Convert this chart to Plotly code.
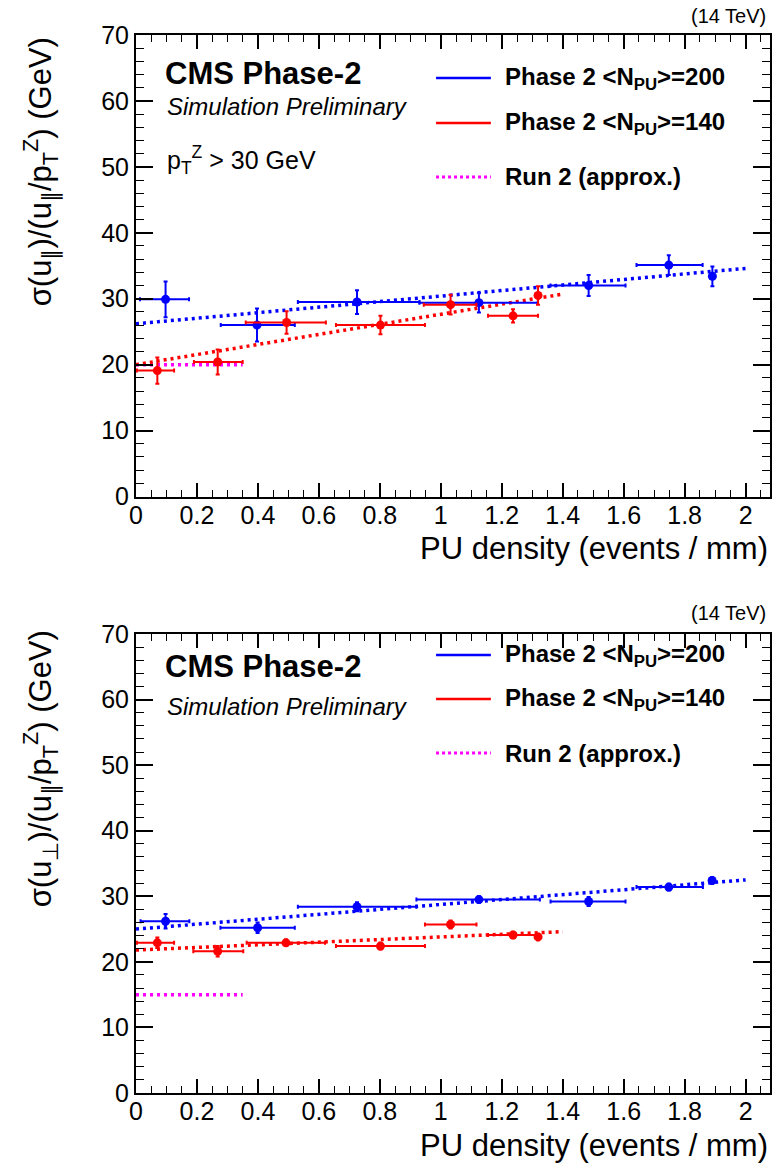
import plotly.graph_objects as go

# ---------------- data ----------------
# Top panel: sigma(u_par)
top_x200 = [0.097, 0.397, 0.725, 1.125, 1.485, 1.748, 1.891]
top_y200 = [29.9, 26.0, 29.5, 29.4, 32.0, 35.1, 33.4]
top_lo200 = [0.013, 0.278, 0.531, 0.93, 1.36, 1.642, 1.891]
top_hi200 = [0.174, 0.521, 0.93, 1.318, 1.606, 1.859, 1.891]
top_ey200 = [2.7, 2.5, 1.8, 1.5, 1.6, 1.5, 1.5]

top_x140 = [0.07, 0.268, 0.494, 0.802, 1.032, 1.237, 1.319]
top_y140 = [19.1, 20.4, 26.4, 26.0, 29.1, 27.4, 30.5]
top_lo140 = [0.003, 0.19, 0.36, 0.656, 0.944, 1.155, 1.319]
top_hi140 = [0.125, 0.35, 0.623, 0.948, 1.117, 1.319, 1.319]
top_ey140 = [2.0, 1.9, 1.7, 1.4, 1.5, 1.0, 1.4]

top_fit200_x = [0.0, 2.0]
top_fit200_y = [26.2, 34.6]
top_fit140_x = [0.0, 1.4]
top_fit140_y = [20.0, 30.7]
top_run2_x = [0.0, 0.35]
top_run2_y = [20.0, 20.0]

# Bottom panel: sigma(u_perp)
bot_x200 = [0.097, 0.399, 0.725, 1.125, 1.485, 1.748, 1.89]
bot_y200 = [26.2, 25.2, 28.4, 29.5, 29.2, 31.4, 32.4]
bot_lo200 = [0.015, 0.277, 0.531, 0.92, 1.36, 1.642, 1.89]
bot_hi200 = [0.175, 0.521, 0.92, 1.325, 1.606, 1.86, 1.89]
bot_ey200 = [1.1, 0.8, 0.7, 0.5, 0.7, 0.5, 0.5]

bot_x140 = [0.07, 0.268, 0.492, 0.802, 1.032, 1.237, 1.319]
bot_y140 = [22.9, 21.6, 22.9, 22.4, 25.7, 24.1, 23.8]
bot_lo140 = [0.003, 0.188, 0.363, 0.656, 0.948, 1.155, 1.319]
bot_hi140 = [0.125, 0.352, 0.62, 0.948, 1.117, 1.319, 1.319]
bot_ey140 = [0.8, 0.8, 0.5, 0.5, 0.6, 0.5, 0.5]

bot_fit200_x = [0.0, 2.0]
bot_fit200_y = [25.0, 32.5]
bot_fit140_x = [0.0, 1.4]
bot_fit140_y = [21.8, 24.6]
bot_run2_x = [0.0, 0.35]
bot_run2_y = [15.0, 15.0]

BLUE = "rgb(0,0,255)"
RED = "rgb(255,0,0)"
MAG = "rgb(255,0,255)"
FONT = "Liberation Sans, Arial, Helvetica, sans-serif"

W, H = 779, 1167
ML, MR, MT, MB = 136, 7, 35, 74
PW = W - ML - MR
PH = H - MT - MB
TOP_BOTTOM_PX = 496.5
BOT_TOP_PX = 634.0


def py(ypx):
    return (H - MB - ypx) / PH


def px(xpx):
    return (xpx - ML) / PW


fig = go.Figure()


def add_points(x, y, lo, hi, ey, color, xa, ya):
    fig.add_trace(go.Scatter(
        x=x, y=y, mode="markers", xaxis=xa, yaxis=ya,
        marker=dict(color=color, size=9, symbol="circle"),
        error_x=dict(type="data", symmetric=False,
                     array=[h - v for h, v in zip(hi, x)],
                     arrayminus=[v - l for v, l in zip(x, lo)],
                     color=color, thickness=2, width=2),
        error_y=dict(type="data", array=ey, color=color, thickness=2, width=2),
        showlegend=False, hoverinfo="skip"))


def add_line(x, y, color, xa, ya):
    fig.add_trace(go.Scatter(
        x=x, y=y, mode="lines", xaxis=xa, yaxis=ya,
        line=dict(color=color, width=3.5, dash="3px,4px"),
        showlegend=False, hoverinfo="skip"))


# top panel
add_line(top_run2_x, top_run2_y, MAG, "x", "y")
add_line(top_fit200_x, top_fit200_y, BLUE, "x", "y")
add_line(top_fit140_x, top_fit140_y, RED, "x", "y")
add_points(top_x200, top_y200, top_lo200, top_hi200, top_ey200, BLUE, "x", "y")
add_points(top_x140, top_y140, top_lo140, top_hi140, top_ey140, RED, "x", "y")
# bottom panel
add_line(bot_run2_x, bot_run2_y, MAG, "x2", "y2")
add_line(bot_fit200_x, bot_fit200_y, BLUE, "x2", "y2")
add_line(bot_fit140_x, bot_fit140_y, RED, "x2", "y2")
add_points(bot_x200, bot_y200, bot_lo200, bot_hi200, bot_ey200, BLUE, "x2", "y2")
add_points(bot_x140, bot_y140, bot_lo140, bot_hi140, bot_ey140, RED, "x2", "y2")

xaxis_common = dict(
    range=[0, 2.08], dtick=0.2, tick0=0, ticks="inside", ticklen=14, tickwidth=1.5,
    tickcolor="black", showline=True, linecolor="black", linewidth=2, mirror="ticks",
    showgrid=False, zeroline=False, tickfont=dict(family=FONT, size=25, color="black"),
    ticklabelstandoff=-5,
    minor=dict(dtick=0.05, ticks="inside", ticklen=7, tickwidth=1.2, tickcolor="black", showgrid=False),
)
yaxis_common = dict(
    range=[0, 70], dtick=10, tick0=0, ticks="inside", ticklen=17, tickwidth=1.5,
    tickcolor="black", showline=True, linecolor="black", linewidth=2, mirror="ticks",
    showgrid=False, zeroline=False, tickfont=dict(family=FONT, size=25, color="black"),
    minor=dict(dtick=2, ticks="inside", ticklen=8, tickwidth=1.2, tickcolor="black", showgrid=False),
)

fig.update_layout(
    width=W, height=H, margin=dict(l=ML, r=MR, t=MT, b=MB),
    paper_bgcolor="white", plot_bgcolor="white",
    font=dict(family=FONT, color="black"),
    xaxis=dict(**xaxis_common, anchor="y", domain=[0, 1]),
    yaxis=dict(**yaxis_common, anchor="x", domain=[py(TOP_BOTTOM_PX), 1]),
    xaxis2=dict(**xaxis_common, anchor="y2", domain=[0, 1]),
    yaxis2=dict(**yaxis_common, anchor="x2", domain=[0, py(BOT_TOP_PX)]),
)

ann = []
shapes = []


def text(xpx, ypx, s, size, xanchor="left", angle=0, yanchor="middle"):
    ann.append(dict(x=px(xpx), y=py(ypx), xref="paper", yref="paper", text=s,
                    showarrow=False, xanchor=xanchor, yanchor=yanchor, textangle=angle,
                    font=dict(family=FONT, size=size, color="black")))


def panel_text(off, legend_rows, ytitle, cms_y, sim_y, xtitle_y, pt_y=None):
    text(770, 16 + off, "(14 TeV)", 20, xanchor="right")
    text(163, cms_y, "<b>CMS Phase-2</b>", 31)
    text(165, sim_y, "<i>Simulation Preliminary</i>", 24)
    if pt_y is not None:
        text(165, pt_y, "p<sub>T</sub><sup>Z</sup> &gt; 30 GeV", 25)
    labels = ["<b>Phase 2 &lt;N<sub>PU</sub>&gt;=200</b>",
              "<b>Phase 2 &lt;N<sub>PU</sub>&gt;=140</b>",
              "<b>Run 2 (approx.)</b>"]
    cols = [BLUE, RED, MAG]
    for (yy, lab, c, i) in zip(legend_rows, labels, cols, range(3)):
        shapes.append(dict(type="line", xref="paper", yref="paper",
                           x0=px(437), x1=px(492), y0=py(yy), y1=py(yy),
                           line=dict(color=c, width=2.5 if i < 2 else 3,
                                     dash="solid" if i < 2 else "3px,3px")))
        text(504, yy, lab, 24)
    text(772, xtitle_y, "PU density (events / mm)", 31, xanchor="right")
    text(40, 172 + off, ytitle, 31, xanchor="center", angle=-90)


panel_text(0, [78, 123, 177],
           "σ(u<sub>∥</sub>)/(u<sub>∥</sub>/p<sub>T</sub><sup>Z</sup>) (GeV)",
           73, 107, 548, 160)
panel_text(597, [655, 699, 753],
           "σ(u<sub>⊥</sub>)/(u<sub>∥</sub>/p<sub>T</sub><sup>Z</sup>) (GeV)",
           667, 706, 1145)

fig.update_layout(annotations=ann, shapes=shapes)
fig.write_html("out.html")
